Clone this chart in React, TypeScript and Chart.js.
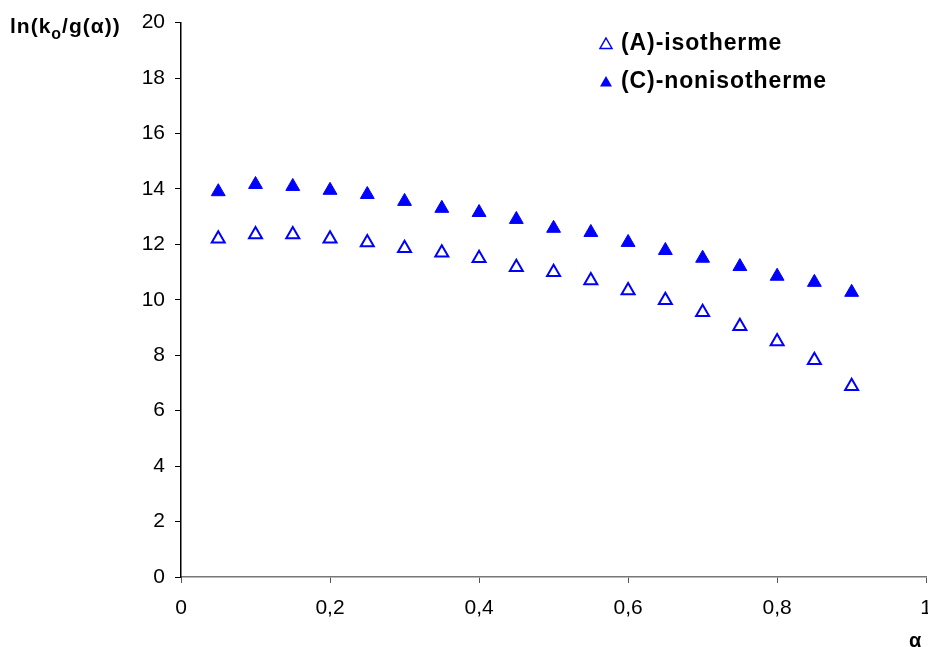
import React, { useEffect, useRef } from "react";
import { Chart, registerables } from "chart.js";

Chart.register(...registerables);

const alphaValues = [0.05, 0.1, 0.15, 0.2, 0.25, 0.3, 0.35, 0.4, 0.45, 0.5, 0.55, 0.6, 0.65, 0.7, 0.75, 0.8, 0.85, 0.9];
const isothermeA = [12.2, 12.36, 12.36, 12.2, 12.07, 11.86, 11.7, 11.5, 11.17, 10.99, 10.7, 10.34, 9.98, 9.55, 9.05, 8.5, 7.82, 6.88];
const nonisothermeC = [13.9, 14.16, 14.09, 13.95, 13.8, 13.55, 13.3, 13.15, 12.9, 12.58, 12.43, 12.07, 11.78, 11.5, 11.2, 10.85, 10.63, 10.27];
const seriesLabels = ["(A)-isotherme", "(C)-nonisotherme"];

const FONT = "'Liberation Sans', Arial, sans-serif";
const BLUE = "#0000FF";

const overlayPlugin = {
  id: "overlay",
  afterDraw(chart: any) {
    const ctx = chart.ctx;
    ctx.save();
    ctx.fillStyle = "#000";
    ctx.textBaseline = "alphabetic";
    ctx.textAlign = "left";
    // y-axis title: ln(k_o/g(α))
    ctx.letterSpacing = "1px";
    let x = 10;
    const y = 33;
    ctx.font = `bold 21px ${FONT}`;
    ctx.fillText("ln(k", x, y);
    x += ctx.measureText("ln(k").width;
    ctx.font = `bold 16px ${FONT}`;
    ctx.fillText("o", x, y + 6);
    x += ctx.measureText("o").width;
    ctx.font = `bold 21px ${FONT}`;
    ctx.fillText("/g(α))", x, y);
    // x-axis title
    ctx.letterSpacing = "0px";
    ctx.font = `bold 20px ${FONT}`;
    ctx.fillText("α", 909, 647);

    // legend
    const items = [
      { label: seriesLabels[0], filled: false, y: 44 },
      { label: seriesLabels[1], filled: true, y: 82 },
    ];
    for (const it of items) {
      const cx = 606;
      const cy = it.y;
      const r = 6;
      ctx.beginPath();
      ctx.moveTo(cx, cy - r);
      ctx.lineTo(cx + r, cy + r * 0.75);
      ctx.lineTo(cx - r, cy + r * 0.75);
      ctx.closePath();
      if (it.filled) {
        ctx.fillStyle = BLUE;
        ctx.fill();
      } else {
        ctx.strokeStyle = BLUE;
        ctx.lineWidth = 1.5;
        ctx.stroke();
      }
      ctx.fillStyle = "#000";
      ctx.font = `bold 23px ${FONT}`;
      ctx.letterSpacing = "0.9px";
      ctx.textBaseline = "middle";
      ctx.fillText(it.label, 621, cy);
    }
    ctx.restore();
  },
};

export default function App() {
  const ref = useRef<HTMLCanvasElement | null>(null);
  useEffect(() => {
    if (!ref.current) return;
    const chart = new Chart(ref.current, {
      type: "scatter",
      data: {
        datasets: [
          {
            label: seriesLabels[0],
            data: alphaValues.map((a, i) => ({ x: a, y: isothermeA[i] })),
            pointStyle: "triangle",
            pointRadius: 7.5,
            borderColor: BLUE,
            backgroundColor: "rgba(255,255,255,1)",
            borderWidth: 2,
          },
          {
            label: seriesLabels[1],
            data: alphaValues.map((a, i) => ({ x: a, y: nonisothermeC[i] })),
            pointStyle: "triangle",
            pointRadius: 8,
            borderColor: BLUE,
            backgroundColor: BLUE,
            borderWidth: 1,
          },
        ],
      },
      options: {
        animation: false,
        responsive: false,
        maintainAspectRatio: false,
        layout: { padding: { top: 22, right: 17, left: 0, bottom: 0 } },
        plugins: { legend: { display: false }, tooltip: { enabled: false } },
        scales: {
          x: {
            type: "linear",
            min: 0,
            max: 1,
            ticks: {
              stepSize: 0.2,
              color: "#000",
              font: { family: FONT, size: 21 },
              padding: 13,
              maxRotation: 0,
              callback: (v: any) => String(Math.round(Number(v) * 10) / 10).replace(".", ","),
            },
            grid: { drawOnChartArea: false, tickLength: 6, color: "#777", tickColor: "#555" },
            border: { color: "#777", width: 1.5 },
            afterFit: (s: any) => {
              s.height = 70;
            },
          },
          y: {
            min: 0,
            max: 20,
            ticks: {
              stepSize: 2,
              color: "#000",
              font: { family: FONT, size: 21 },
              padding: 10,
            },
            grid: { drawOnChartArea: false, tickLength: 6, color: "#000", tickColor: "#000" },
            border: { color: "#000", width: 1.5 },
            afterFit: (s: any) => {
              s.width = 181;
            },
          },
        },
      },
      plugins: [overlayPlugin],
    });
    return () => chart.destroy();
  }, []);
  return (
    <div style={{ position: "absolute", left: 0, top: 0, width: 928, height: 647, overflow: "hidden", background: "#fff" }}>
      <canvas ref={ref} width={945} height={647} style={{ width: 945, height: 647, display: "block" }} />
    </div>
  );
}
